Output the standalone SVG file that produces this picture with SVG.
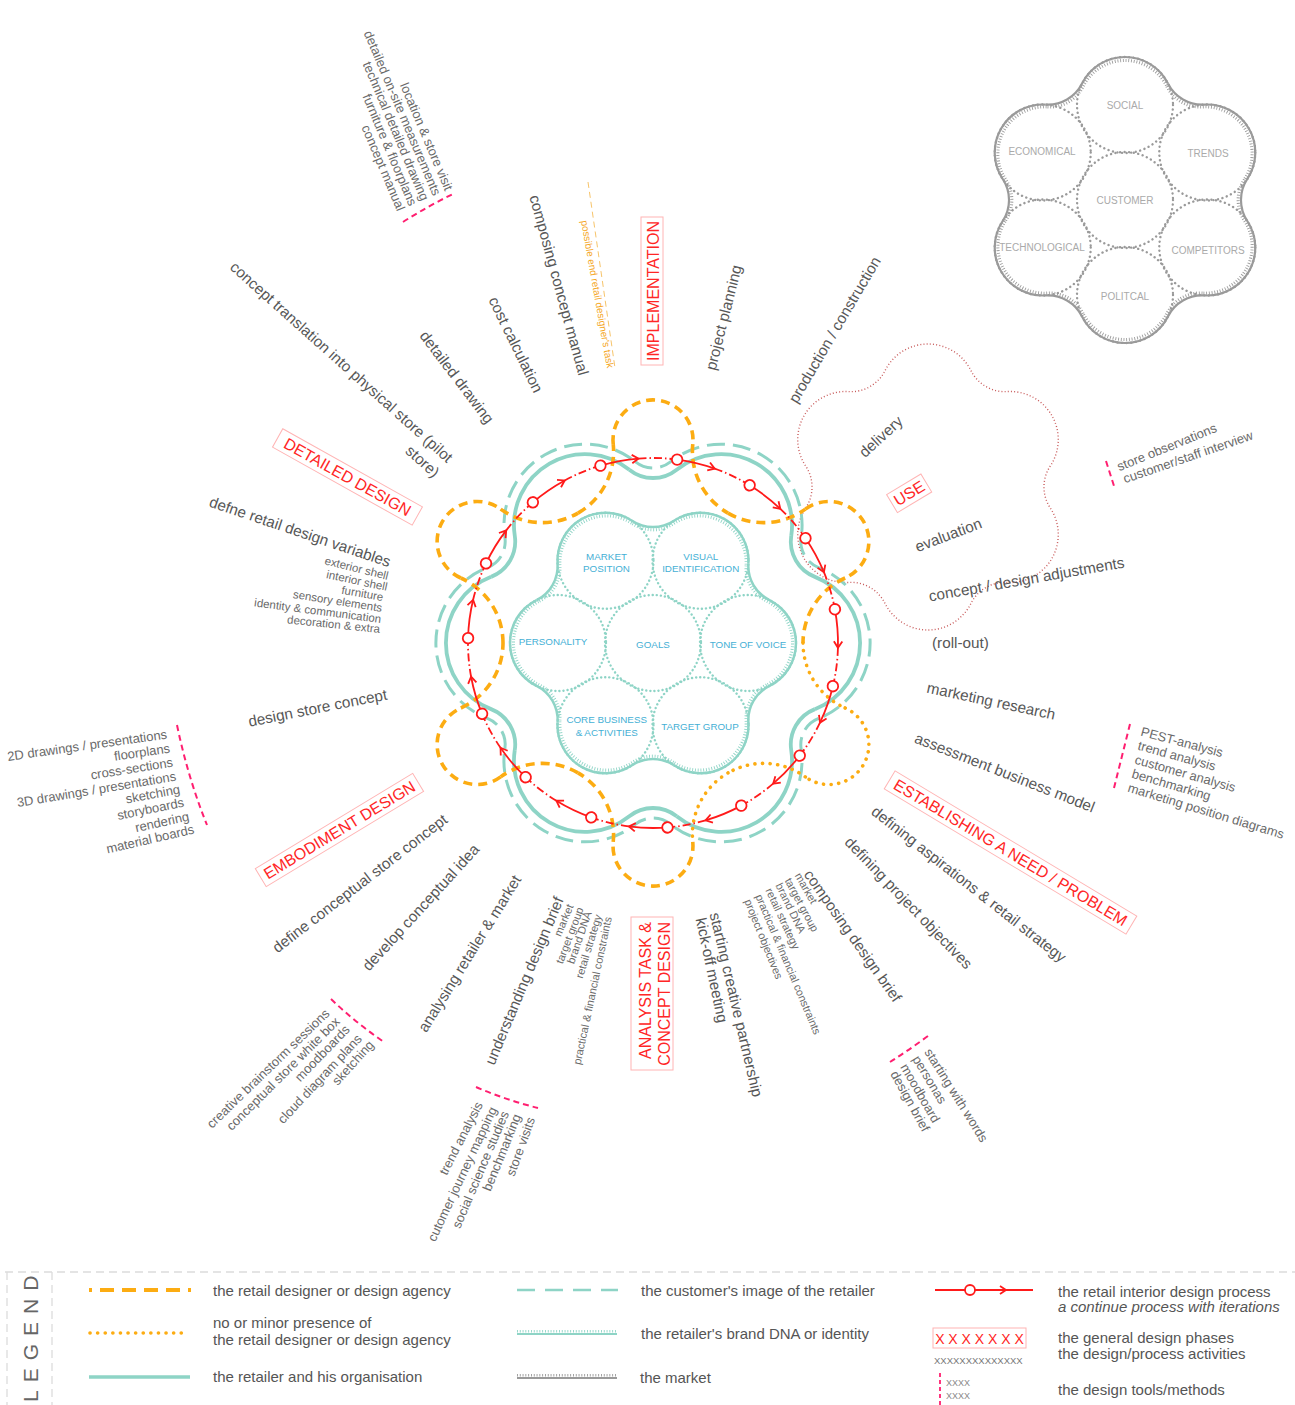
<svg xmlns="http://www.w3.org/2000/svg" width="1295" height="1405" viewBox="0 0 1295 1405">
<style>
text{font-family:"Liberation Sans",Arial,sans-serif}
.lbl{font-size:15.3px;fill:#575757}
.sub{font-size:11.5px;fill:#6a6a6a}
.sm{font-size:11px;fill:#6a6a6a}
.tool{font-size:13px;fill:#6a6a6a}
.ph{font-size:16px;fill:#ff2626;text-anchor:middle}
.pbox{fill:none;stroke:#ffb4b4;stroke-width:1}
.mkt{font-size:10px;fill:#aaa;text-anchor:middle}
.dna{font-size:9.8px;fill:#45b0d5;text-anchor:middle}
.leg{font-size:15px;fill:#555}
.e{text-anchor:end}
.pk{fill:none;stroke:#ff1f70;stroke-width:2;stroke-dasharray:6 4}
.or{fill:none;stroke:#fcac12;stroke-width:3.6;stroke-dasharray:9 6}
.od{fill:none;stroke:#fcac12;stroke-width:3.6;stroke-dasharray:0.1 7.5;stroke-linecap:round}
.rd{fill:none;stroke:#ff1a1a;stroke-width:1.8}
</style>
<defs>
<path id="retSec" d="M-23.70 -173.29A38 38 0 0 0 23.70 -173.29A71 71 0 0 1 138.24 -107.14"/>
<path id="cusSec" d="M-17.47 -181.11A28 28 0 0 0 17.47 -181.11A81 81 0 0 1 148.15 -105.63"/>
<path id="flwSec" d="M-21 -122.29A38 38 0 0 0 21 -122.29A48 48 0 0 1 95.41 -79.33"/>
<path id="oLoop" d="M-39.78 -198.89A40 40 0 1 1 39.78 -198.89"/>
<path id="oConnA" d="M39.78 -198.89A71.2 71.2 0 0 0 75.0 -129.9"/>
<path id="oConnB" d="M75.0 -129.9A71.2 71.2 0 0 0 152.33 -133.87"/>
<g id="flw" fill="none">
<use href="#flwSec"/><use href="#flwSec" transform="rotate(60)"/><use href="#flwSec" transform="rotate(120)"/>
<use href="#flwSec" transform="rotate(180)"/><use href="#flwSec" transform="rotate(240)"/><use href="#flwSec" transform="rotate(300)"/>
</g>
<g id="ret" fill="none">
<use href="#retSec"/><use href="#retSec" transform="rotate(60)"/><use href="#retSec" transform="rotate(120)"/>
<use href="#retSec" transform="rotate(180)"/><use href="#retSec" transform="rotate(240)"/><use href="#retSec" transform="rotate(300)"/>
</g>
<g id="cus" fill="none">
<use href="#cusSec"/><use href="#cusSec" transform="rotate(60)"/><use href="#cusSec" transform="rotate(120)"/>
<use href="#cusSec" transform="rotate(180)"/><use href="#cusSec" transform="rotate(240)"/><use href="#cusSec" transform="rotate(300)"/>
</g>
<g id="ru">
<path class="rd" d="M677.15 459.58A185 185 0 0 1 714.75 468.61"/>
<path class="rd" stroke-dasharray="8 3 1.5 3" d="M714.75 468.61A185 185 0 0 1 749.66 485.26"/>
<path class="rd" d="M-6.5 -4.2L0 0L-6.5 4.2" transform="translate(714.75 468.61) rotate(19.5)"/>
</g>
<circle id="rn" cx="677.15" cy="459.58" r="5.3" fill="#fff" stroke="#ff1a1a" stroke-width="1.8"/>
</defs>

<!-- USE flower -->
<g id="use-flower" stroke="#c85a5a" stroke-width="1.4" stroke-dasharray="1 2.2" transform="translate(928,487) rotate(30)">
<use href="#flw"/>
</g>

<!-- market -->
<g id="market">
<g fill="none" stroke="#9a9a9a" stroke-width="2.4" stroke-dasharray="0.1 4.5" stroke-linecap="round">
<circle cx="1125" cy="200" r="48"/><circle cx="1125" cy="105" r="48"/><circle cx="1125" cy="295" r="48"/>
<circle cx="1207.27" cy="152.5" r="48"/><circle cx="1207.27" cy="247.5" r="48"/>
<circle cx="1042.73" cy="152.5" r="48"/><circle cx="1042.73" cy="247.5" r="48"/>
</g>
<g stroke="#9a9a9a" stroke-width="2.2" transform="translate(1125,200) rotate(30)"><use href="#flw"/></g>
<g stroke="#9a9a9a" stroke-width="3.2" stroke-dasharray="0.9 1.9" transform="translate(1125,200) rotate(30) scale(0.976)"><use href="#flw"/></g>
<text class="mkt" x="1125" y="108.5">SOCIAL</text>
<text class="mkt" x="1042" y="154.5">ECONOMICAL</text>
<text class="mkt" x="1208" y="157">TRENDS</text>
<text class="mkt" x="1125" y="204">CUSTOMER</text>
<text class="mkt" x="1042" y="251">TECHNOLOGICAL</text>
<text class="mkt" x="1208" y="253.5">COMPETITORS</text>
<text class="mkt" x="1125" y="300">POLITCAL</text>
</g>

<!-- retailer rings -->
<g id="customer-image" stroke="#8ed4c6" stroke-width="3" stroke-dasharray="18 8" transform="translate(653,643)"><use href="#cus"/></g>
<g id="retailer" stroke="#8ed4c6" stroke-width="3.8" transform="translate(653,643)"><use href="#ret"/></g>

<!-- brand DNA -->
<g id="brand-dna">
<g fill="none" stroke="#8ed4c6" stroke-width="2.4" stroke-dasharray="0.1 4" stroke-linecap="round">
<circle cx="653" cy="643" r="48"/><circle cx="748" cy="643" r="48"/><circle cx="558" cy="643" r="48"/>
<circle cx="700.5" cy="560.73" r="48"/><circle cx="605.5" cy="560.73" r="48"/>
<circle cx="700.5" cy="725.27" r="48"/><circle cx="605.5" cy="725.27" r="48"/>
</g>
<g stroke="#8ed4c6" stroke-width="2.5" transform="translate(653,643)"><use href="#flw"/></g>
<g stroke="#8ed4c6" stroke-width="3.2" stroke-dasharray="0.9 1.9" transform="translate(653,643) scale(0.976)"><use href="#flw"/></g>
<text class="dna" x="606.5" y="559.5">MARKET</text>
<text class="dna" x="606.5" y="572">POSITION</text>
<text class="dna" x="700.7" y="559.5">VISUAL</text>
<text class="dna" x="700.7" y="572">IDENTIFICATION</text>
<text class="dna" x="553" y="644.5">PERSONALITY</text>
<text class="dna" x="653" y="647.5">GOALS</text>
<text class="dna" x="748" y="647.5">TONE OF VOICE</text>
<text class="dna" x="606.7" y="723">CORE BUSINESS</text>
<text class="dna" x="606.7" y="735.5">&amp; ACTIVITIES</text>
<text class="dna" x="700" y="729.5">TARGET GROUP</text>
</g>

<!-- designer loops -->
<g id="designer" transform="translate(653,643)">
<g class="or">
<use href="#oLoop"/><use href="#oLoop" transform="rotate(60)"/><use href="#oLoop" transform="rotate(180)"/>
<use href="#oLoop" transform="rotate(240)"/><use href="#oLoop" transform="rotate(300)"/>
<use href="#oConnA"/><use href="#oConnB"/>
<use href="#oConnA" transform="rotate(60)"/>
<use href="#oConnA" transform="rotate(180)"/><use href="#oConnB" transform="rotate(180)"/>
<use href="#oConnA" transform="rotate(240)"/><use href="#oConnB" transform="rotate(240)"/>
<use href="#oConnA" transform="rotate(300)"/><use href="#oConnB" transform="rotate(300)"/>
</g>
<g class="od">
<use href="#oLoop" transform="rotate(120)"/>
<use href="#oConnB" transform="rotate(60)"/>
<use href="#oConnA" transform="rotate(120)"/><use href="#oConnB" transform="rotate(120)"/>
</g>
</g>

<!-- process -->
<g id="process">
<use href="#ru"/><use href="#ru" transform="rotate(24 653 643)"/><use href="#ru" transform="rotate(48 653 643)"/>
<use href="#ru" transform="rotate(72 653 643)"/><use href="#ru" transform="rotate(96 653 643)"/><use href="#ru" transform="rotate(120 653 643)"/>
<use href="#ru" transform="rotate(144 653 643)"/><use href="#ru" transform="rotate(168 653 643)"/><use href="#ru" transform="rotate(192 653 643)"/>
<use href="#ru" transform="rotate(216 653 643)"/><use href="#ru" transform="rotate(240 653 643)"/><use href="#ru" transform="rotate(264 653 643)"/>
<use href="#ru" transform="rotate(288 653 643)"/><use href="#ru" transform="rotate(312 653 643)"/><use href="#ru" transform="rotate(336 653 643)"/>
<use href="#rn"/><use href="#rn" transform="rotate(24 653 643)"/><use href="#rn" transform="rotate(48 653 643)"/>
<use href="#rn" transform="rotate(72 653 643)"/><use href="#rn" transform="rotate(96 653 643)"/><use href="#rn" transform="rotate(120 653 643)"/>
<use href="#rn" transform="rotate(144 653 643)"/><use href="#rn" transform="rotate(168 653 643)"/><use href="#rn" transform="rotate(192 653 643)"/>
<use href="#rn" transform="rotate(216 653 643)"/><use href="#rn" transform="rotate(240 653 643)"/><use href="#rn" transform="rotate(264 653 643)"/>
<use href="#rn" transform="rotate(288 653 643)"/><use href="#rn" transform="rotate(312 653 643)"/><use href="#rn" transform="rotate(336 653 643)"/>
</g>

<!-- tool markers -->
<g id="tool-lines">
<path class="pk" d="M403 222Q428 206 453 194"/>
<path class="pk" d="M177 725Q188 778 207 825"/>
<path class="pk" d="M1130 724Q1122 756 1114 788"/>
<path class="pk" d="M1106 461L1114 486"/>
<path class="pk" d="M331 999Q356 1023 384 1042"/>
<path class="pk" d="M476 1087Q506 1100 538 1108"/>
<path class="pk" d="M890 1062Q909 1050 928 1036"/>
<path d="M588 182L615 368" fill="none" stroke="#f7c46a" stroke-width="1" stroke-dasharray="6 4"/>
</g>

<!-- phases -->
<g id="phase-implementation" transform="translate(659,291) rotate(-90)">
<rect class="pbox" x="-74" y="-18" width="148" height="22"/>
<text class="ph">IMPLEMENTATION</text>
</g>
<g id="phase-detailed" transform="translate(344.8,481.8) rotate(29.2)">
<rect class="pbox" x="-80" y="-16" width="160" height="21"/>
<text class="ph">DETAILED DESIGN</text>
</g>
<g id="phase-embodiment" transform="translate(342.3,834.7) rotate(-31.2)">
<rect class="pbox" x="-92" y="-16" width="184" height="21"/>
<text class="ph">EMBODIMENT DESIGN</text>
</g>
<g id="phase-analysis">
<rect class="pbox" x="631" y="917" width="42" height="153"/>
<text class="ph e" transform="translate(651,922) rotate(-90)">ANALYSIS TASK &amp;</text>
<text class="ph e" transform="translate(670,922) rotate(-90)">CONCEPT DESIGN</text>
</g>
<g id="phase-establishing" transform="translate(1007.7,857.2) rotate(31)">
<rect class="pbox" x="-141" y="-16" width="282" height="21"/>
<text class="ph">ESTABLISHING A NEED / PROBLEM</text>
</g>
<g id="phase-use" transform="translate(912,498) rotate(-31)">
<rect class="pbox" x="-20" y="-16" width="40" height="21"/>
<text class="ph">USE</text>
</g>

<!-- activities -->
<g id="activities">
<text class="lbl e" transform="translate(578.7,376.2) rotate(74.6)">composing concept manual</text>
<text class="e" style="font-size:10px;fill:#f5a623" transform="translate(607,368.5) rotate(80)">possible end retail designer's task</text>
<text class="lbl e" transform="translate(534,394) rotate(64)">cost calculation</text>
<text class="lbl e" transform="translate(486.4,424.7) rotate(52.7)">detailed drawing</text>
<g transform="translate(447,463.4) rotate(41.8)">
<text class="lbl e">concept translation into physical store (pilot</text>
<text class="lbl e" y="20">store)</text>
</g>
<text class="lbl e" transform="translate(388.6,567.3) rotate(18.7)">defne retail design variables</text>
<text class="sub e" transform="translate(387.3,579.9) rotate(14)">exterior shell</text>
<text class="sub e" transform="translate(386.4,590.9) rotate(12)">interior shell</text>
<text class="sub e" transform="translate(382.5,601) rotate(10)">furniture</text>
<text class="sub e" transform="translate(381.5,612) rotate(9)">sensory elements</text>
<text class="sub e" transform="translate(380.6,623) rotate(7.5)">identity &amp; communication</text>
<text class="sub e" transform="translate(379.7,633) rotate(6)">decoration &amp; extra</text>
<text class="lbl e" transform="translate(387.9,699.4) rotate(-11.2)">design store concept</text>
<text class="lbl e" transform="translate(448.7,821.6) rotate(-37.6)">define conceptual store concept</text>
<text class="lbl e" transform="translate(480.3,850) rotate(-47.6)">develop conceptual idea</text>
<text class="lbl e" transform="translate(521.8,879.4) rotate(-58.2)">analysing retailer &amp; market</text>
<text class="lbl e" transform="translate(564,899.7) rotate(-67.2)">understanding design brief</text>
<text class="sm e" transform="translate(573.8,906.2) rotate(-67)">market</text>
<text class="sm e" transform="translate(583.8,909.1) rotate(-69)">target group</text>
<text class="sm e" transform="translate(591.8,913) rotate(-71)">brand DNA</text>
<text class="sm e" transform="translate(601.9,915.9) rotate(-73)">retail strategy</text>
<text class="sm e" transform="translate(611.9,917.6) rotate(-78)">practical &amp; financial constraints</text>
<text class="lbl" transform="translate(709.6,914) rotate(76.8)">starting creative partnership</text>
<text class="lbl" transform="translate(695.6,919) rotate(78)">kick-off meeting</text>
<text class="sm" transform="translate(794.4,875.5) rotate(60)">market</text>
<text class="sm" transform="translate(784.4,880.4) rotate(62)">target group</text>
<text class="sm" transform="translate(775.3,885.3) rotate(64)">brand DNA</text>
<text class="sm" transform="translate(765.3,890.3) rotate(65)">retail strategy</text>
<text class="sm" transform="translate(755.2,896.2) rotate(67)">practical &amp; financial constraints</text>
<text class="sm" transform="translate(744.2,901.1) rotate(68)">project objectives</text>
<text class="lbl" transform="translate(803.3,874.6) rotate(54.9)">composing design brief</text>
<text class="lbl" transform="translate(843.8,843.1) rotate(46.1)">defining project objectives</text>
<text class="lbl" transform="translate(870.2,813.5) rotate(38.1)">defining aspirations &amp; retail strategy</text>
<text class="lbl" transform="translate(913.4,742.2) rotate(21.5)">assessment business model</text>
<text class="lbl" transform="translate(926.1,692.4) rotate(12.1)">marketing research</text>
<text class="lbl" x="932" y="648">(roll-out)</text>
<text class="lbl" transform="translate(929.8,601.4) rotate(-9.9)">concept / design adjustments</text>
<text class="lbl" transform="translate(917.6,552.2) rotate(-20.7)">evaluation</text>
<text class="lbl" transform="translate(865,458.3) rotate(-42.5)">delivery</text>
<text class="lbl" transform="translate(796.9,404.3) rotate(-59.6)">production / construction</text>
<text class="lbl" transform="translate(715.4,371.1) rotate(-75.8)">project planning</text>
</g>

<!-- tools -->
<g id="tools">
<g transform="translate(445,191.5) rotate(67)">
<text class="tool e">location &amp; store visit</text>
<text class="tool e" y="13">detailed on-site measurements</text>
<text class="tool e" y="26">technical detailed drawing</text>
<text class="tool e" y="39">furniture &amp; floorplans</text>
<text class="tool e" y="52">concept manual</text>
</g>
<text class="tool e" transform="translate(167.5,738.5) rotate(-8)">2D drawings / presentations</text>
<text class="tool e" transform="translate(170.5,752.5) rotate(-8.5)">floorplans</text>
<text class="tool e" transform="translate(173.5,766.5) rotate(-9)">cross-sections</text>
<text class="tool e" transform="translate(176.6,780.5) rotate(-9.5)">3D drawings / presentations</text>
<text class="tool e" transform="translate(180.6,793.4) rotate(-10.5)">sketching</text>
<text class="tool e" transform="translate(184.7,806.4) rotate(-11.5)">storyboards</text>
<text class="tool e" transform="translate(189.8,820.4) rotate(-12.5)">rendering</text>
<text class="tool e" transform="translate(194.8,833.4) rotate(-13)">material boards</text>
<text class="tool" transform="translate(1140,735.4) rotate(15)">PEST-analysis</text>
<text class="tool" transform="translate(1137,749.4) rotate(15.5)">trend analysis</text>
<text class="tool" transform="translate(1134,763.4) rotate(16)">customer analysis</text>
<text class="tool" transform="translate(1131,777.4) rotate(16.5)">benchmarking</text>
<text class="tool" transform="translate(1127,791.4) rotate(17)">marketing position diagrams</text>
<text class="tool" transform="translate(1119.3,471.2) rotate(-22)">store observations</text>
<text class="tool" transform="translate(1125.1,483.3) rotate(-19)">customer/staff interview</text>
<text class="tool e" transform="translate(330.4,1014.5) rotate(-44)">creative brainstorm sessions</text>
<text class="tool e" transform="translate(340.5,1022.5) rotate(-45)">conceptual store white box</text>
<text class="tool e" transform="translate(350.5,1030.4) rotate(-46)">moodboards</text>
<text class="tool e" transform="translate(362.6,1039.4) rotate(-47)">cloud diagram plans</text>
<text class="tool e" transform="translate(374.6,1045.3) rotate(-48)">sketching</text>
<text class="tool e" transform="translate(483.1,1104.6) rotate(-63)">trend analysis</text>
<text class="tool e" transform="translate(497.2,1109.5) rotate(-65)">cutomer journey mapping</text>
<text class="tool e" transform="translate(509.2,1113.4) rotate(-67)">social science studies</text>
<text class="tool e" transform="translate(521.2,1116.3) rotate(-68)">benchmarking</text>
<text class="tool e" transform="translate(535.3,1119.2) rotate(-70)">store visits</text>
<text class="tool" transform="translate(924,1051.9) rotate(58)">starting with words</text>
<text class="tool" transform="translate(912,1058.9) rotate(59)">personas</text>
<text class="tool" transform="translate(900,1066.9) rotate(60)">moodboard</text>
<text class="tool" transform="translate(890,1073.9) rotate(61)">design brief</text>
</g>

<!-- legend -->
<g id="legend">
<line x1="5" y1="1272" x2="1295" y2="1272" stroke="#dcdcdc" stroke-width="1.3" stroke-dasharray="8 5"/>
<line x1="7" y1="1272" x2="7" y2="1405" stroke="#dcdcdc" stroke-width="1.3" stroke-dasharray="8 5"/>
<line x1="52" y1="1272" x2="52" y2="1405" stroke="#dcdcdc" stroke-width="1.3" stroke-dasharray="8 5"/>
<text transform="translate(38,1402) rotate(-90)" style="font-size:21px;letter-spacing:8px;fill:#666">LEGEND</text>
<line x1="89" y1="1290" x2="191" y2="1290" stroke="#fcac12" stroke-width="4" stroke-dasharray="3 8 14 8 14 8 14 8 14 8 3"/>
<line class="od" x1="90" y1="1333" x2="186" y2="1333" stroke-width="3.2"/>
<line x1="89" y1="1377" x2="190" y2="1377" stroke="#8ed4c6" stroke-width="3.5"/>
<text class="leg" x="213" y="1296">the retail designer or design agency</text>
<text class="leg" x="213" y="1328">no or minor presence of</text>
<text class="leg" x="213" y="1345">the retail designer or design agency</text>
<text class="leg" x="213" y="1382">the retailer and his organisation</text>
<line x1="517" y1="1290" x2="618" y2="1290" stroke="#8ed4c6" stroke-width="2.5" stroke-dasharray="18 10"/>
<line x1="517" y1="1334" x2="617" y2="1334" stroke="#8ed4c6" stroke-width="2"/>
<line x1="517" y1="1331.2" x2="617" y2="1331.2" stroke="#8ed4c6" stroke-width="2.6" stroke-dasharray="0.9 1.9"/>
<line x1="517" y1="1378" x2="617" y2="1378" stroke="#9a9a9a" stroke-width="2"/>
<line x1="517" y1="1375.2" x2="617" y2="1375.2" stroke="#9a9a9a" stroke-width="2.6" stroke-dasharray="0.9 1.9"/>
<text class="leg" x="641" y="1296">the customer's image of the retailer</text>
<text class="leg" x="641" y="1339">the retailer's brand DNA or identity</text>
<text class="leg" x="640" y="1383">the market</text>
<line class="rd" x1="935" y1="1290" x2="1033" y2="1290"/>
<path class="rd" d="M1000 1286L1006 1290L1000 1294"/>
<circle cx="970" cy="1290" r="5" fill="#fff" stroke="#ff1a1a" stroke-width="1.8"/>
<rect class="pbox" x="933" y="1328" width="93" height="20"/>
<text x="979.5" y="1344" style="font-size:14px;fill:#ff2626;text-anchor:middle">X X X X X X X</text>
<text x="934" y="1364" style="font-size:9.5px;fill:#777">XXXXXXXXXXXXXX</text>
<line x1="940" y1="1373" x2="940" y2="1405" stroke="#ff1f70" stroke-width="1.8" stroke-dasharray="4 3"/>
<text x="946" y="1386" style="font-size:9px;fill:#888">XXXX</text>
<text x="946" y="1399" style="font-size:9px;fill:#888">XXXX</text>
<text class="leg" x="1058" y="1297">the retail interior design process</text>
<text class="leg" x="1058" y="1312" font-style="italic">a continue process with iterations</text>
<text class="leg" x="1058" y="1343">the general design phases</text>
<text class="leg" x="1058" y="1359">the design/process activities</text>
<text class="leg" x="1058" y="1395">the design tools/methods</text>
</g>
</svg>
